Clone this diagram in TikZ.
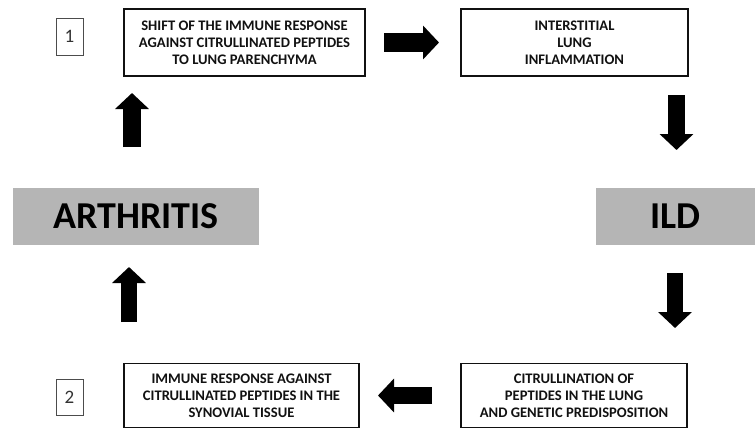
\documentclass[tikz,border=0pt]{standalone}
\usepackage{fontspec}
\setmainfont{Carlito}
\usetikzlibrary{arrows.meta}
\definecolor{boxgray}{HTML}{B5B5B5}
\definecolor{ink}{HTML}{111111}
\tikzset{
  textbox/.style={draw=ink, line width=1.6pt, inner sep=0pt, align=center,
    font=\fontsize{14.6}{17.2}\selectfont\bfseries, text=ink},
  numbox/.style={draw=black!70, line width=0.8pt, inner sep=0pt,
    minimum width=27pt, minimum height=37pt, font=\fontsize{19}{19}\selectfont, text=black!80},
  graybox/.style={fill=boxgray, inner sep=0pt, minimum height=57pt,
    font=\fontsize{38}{38}\selectfont\bfseries, text=black},
  bigarrow/.style={draw=black, line width=#1, -{Triangle[length=16pt,width=33pt]}},
  bigarrow/.default=17pt
}
\begin{document}
\begin{tikzpicture}[x=1pt,y=-1pt]
\useasboundingbox (0,0) rectangle (755,429);
% boxes
\node[textbox, minimum width=241pt, minimum height=67pt] (shift) at (244.5,42.5)
  {SHIFT OF THE IMMUNE RESPONSE\\AGAINST CITRULLINATED PEPTIDES\\TO LUNG PARENCHYMA};
\node[textbox, minimum width=227pt, minimum height=67pt] (inter) at (574.5,42.5)
  {INTERSTITIAL\\LUNG\\INFLAMMATION};
\node[textbox, minimum width=235pt, minimum height=64pt] (immune) at (241.5,395.5)
  {IMMUNE RESPONSE AGAINST\\CITRULLINATED PEPTIDES IN THE\\SYNOVIAL TISSUE};
\node[textbox, minimum width=226pt, minimum height=64pt] (citr) at (574,395.5)
  {CITRULLINATION OF\\PEPTIDES IN THE LUNG\\AND GENETIC PREDISPOSITION};
\node[numbox] (n1) at (69.5,36.5) {1};
\node[numbox, minimum height=36pt] (n2) at (69.5,397) {2};
\node[graybox, minimum width=246pt] (arth) at (136,216.5) {ARTHRITIS};
\node[graybox, minimum width=159pt] (ild) at (675.5,216.5) {ILD};
% arrow end points
\coordinate (a1s) at (384,42.5);  \coordinate (a1e) at (439,42.5);
\coordinate (a2s) at (676.5,95);  \coordinate (a2e) at (676.5,150);
\coordinate (a3s) at (675,273);   \coordinate (a3e) at (675,328);
\coordinate (a4s) at (432,395.5); \coordinate (a4e) at (378,395.5);
\coordinate (a5s) at (129,322);   \coordinate (a5e) at (129,267);
\coordinate (a6s) at (132,147);   \coordinate (a6e) at (132,93);
\draw[bigarrow=19pt] (a1s) -- (a1e);
\draw[bigarrow] (a2s) -- (a2e);
\draw[bigarrow=16pt] (a3s) -- (a3e);
\draw[bigarrow] (a4s) -- (a4e);
\draw[bigarrow=16pt] (a5s) -- (a5e);
\draw[bigarrow=18pt] (a6s) -- (a6e);
\end{tikzpicture}
\end{document}
